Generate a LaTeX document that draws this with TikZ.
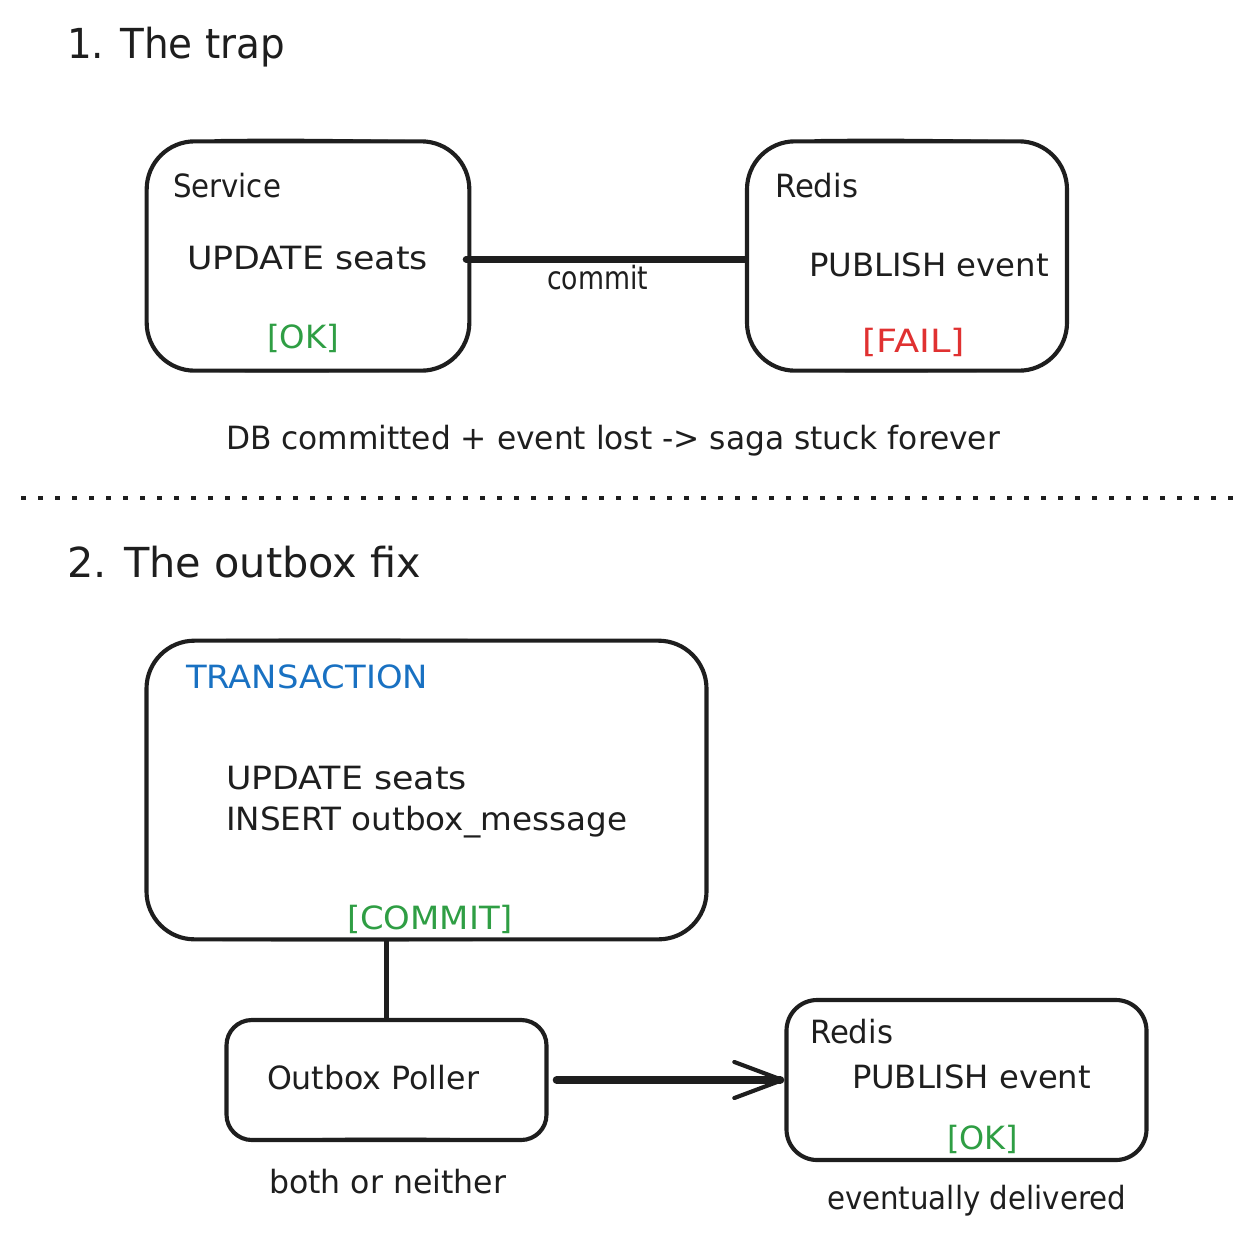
\documentclass[tikz,border=0pt]{standalone}
\usepackage{fontspec}
\usepackage{graphicx}
\setmainfont{DejaVu Sans}
\usetikzlibrary{arrows.meta,calc}
\definecolor{ink}{HTML}{1E1E1E}
\definecolor{okgreen}{HTML}{2F9E44}
\definecolor{failred}{HTML}{E03131}
\definecolor{txblue}{HTML}{1971C2}
\newcommand{\fitw}[2]{\resizebox{#1}{\height}{#2}}
\tikzset{
  x=0.75pt,y=-0.75pt,
  boxbig/.style={draw=ink,line width=3.1pt,rounded corners=36pt,inner sep=0pt,fill=none},
  boxsmall/.style={draw=ink,line width=3.1pt,rounded corners=23pt,inner sep=0pt,fill=none},
  label/.style={anchor=base west,inner sep=0pt,outer sep=0pt,text=ink,font=\fontsize{24}{28}\selectfont},
  heading/.style={label,font=\fontsize{31}{36}\selectfont},
  link/.style={draw=ink,line cap=round},
  bow/.style={draw=ink,line width=1.4pt,line cap=round},
}
\newcommand{\lab}[6][label]{\node[#1,#5] (#2) at (#3) {\fitw{#4}{#6}};}
\begin{document}
\begin{tikzpicture}
\useasboundingbox (0,0) rectangle (1247,1240);

% headings
\lab[heading]{h1}{67,58}{218\dimexpr0.75pt\relax}{}{1. The trap}
\lab[heading]{h2}{67,577}{354\dimexpr0.75pt\relax}{}{2. The outbox fix}

% boxes
\node[boxbig,minimum width=242pt,minimum height=172pt] (svc) at (308,256) {};
\node[boxbig,minimum width=240pt,minimum height=172pt] (redisa) at (907,256) {};
\node[boxbig,minimum width=420pt,minimum height=224pt] (trans) at (426.5,790) {};
\node[boxsmall,minimum width=240pt,minimum height=90pt,rounded corners=19pt] (poller) at (386.5,1080) {};
\node[boxsmall,minimum width=270pt,minimum height=120pt] (redisb) at (966.5,1080) {};

% sketch thickening on the long sides
\draw[bow] (215,140) .. controls (290,139) and (340,140) .. (410,141);
\draw[bow] (215,371) .. controls (290,372) and (340,371) .. (410,371);
\draw[bow] (815,140) .. controls (890,139) and (940,140) .. (1010,141);
\draw[bow] (815,371) .. controls (890,372) and (940,371) .. (1005,371);
\draw[bow] (215,640) .. controls (350,639) and (500,640) .. (640,641);
\draw[bow] (215,940) .. controls (350,941) and (500,940) .. (640,939);
\draw[bow] (270,1020) .. controls (340,1019) and (430,1020) .. (505,1020);
\draw[bow] (270,1140) .. controls (340,1138) and (430,1138) .. (505,1140);
\draw[bow] (840,1000) .. controls (930,999) and (1040,999) .. (1100,1001);
\draw[bow] (840,1160) .. controls (930,1161) and (1040,1161) .. (1100,1160);

% texts, part 1
\lab{t1}{173,197}{108\dimexpr0.75pt\relax}{}{Service}
\lab{t2}{187,269}{241\dimexpr0.75pt\relax}{}{UPDATE seats}
\lab{t3}{267,348}{72\dimexpr0.75pt\relax}{text=okgreen}{[OK]}
\lab{t4}{547,289}{101\dimexpr0.75pt\relax}{}{commit}
\lab{t5}{775,197}{83\dimexpr0.75pt\relax}{}{Redis}
\lab{t6}{809,276}{240\dimexpr0.75pt\relax}{}{PUBLISH event}
\lab{t7}{862,352}{103\dimexpr0.75pt\relax}{text=failred}{[FAIL]}
\lab{t8}{226,449}{774\dimexpr0.75pt\relax}{}{DB committed + event lost -> saga stuck forever}

% texts, part 2
\lab{t9}{186,688}{242\dimexpr0.75pt\relax}{text=txblue}{TRANSACTION}
\lab{t10}{226,789}{241\dimexpr0.75pt\relax}{}{UPDATE seats}
\lab{t11}{226,830}{401\dimexpr0.75pt\relax}{}{INSERT outbox\_message}
\lab{t12}{347,929}{166\dimexpr0.75pt\relax}{text=okgreen}{[COMMIT]}
\lab{t13}{267,1089}{212\dimexpr0.75pt\relax}{}{Outbox Poller}
\lab{t14}{269,1193}{237\dimexpr0.75pt\relax}{}{both or neither}
\lab{t15}{810,1043}{83\dimexpr0.75pt\relax}{}{Redis}
\lab{t16}{852,1088}{239\dimexpr0.75pt\relax}{}{PUBLISH event}
\lab{t17}{947,1149}{71\dimexpr0.75pt\relax}{text=okgreen}{[OK]}
\lab{t18}{827,1209}{299\dimexpr0.75pt\relax}{}{eventually delivered}

% connectors
\draw[link,line width=5pt] ([xshift=-4pt,yshift=-2.5pt]svc.east) -- ([yshift=-2.5pt]redisa.west);
\draw[link,line width=3.2pt] (poller.north |- trans.south) -- (poller.north);
\draw[link,line width=5.8pt,-{Straight Barb[length=36pt,width=27pt,line width=3.1pt,round]}]
  ([xshift=6pt]poller.east) -- (redisb.west);

% divider
\coordinate (d1) at (21,498);
\coordinate (d2) at (1234,498);
\draw[draw=ink,line width=2.8pt,dash pattern=on 3.8pt off 8.95pt] (d1) -- (d2);
\end{tikzpicture}
\end{document}
